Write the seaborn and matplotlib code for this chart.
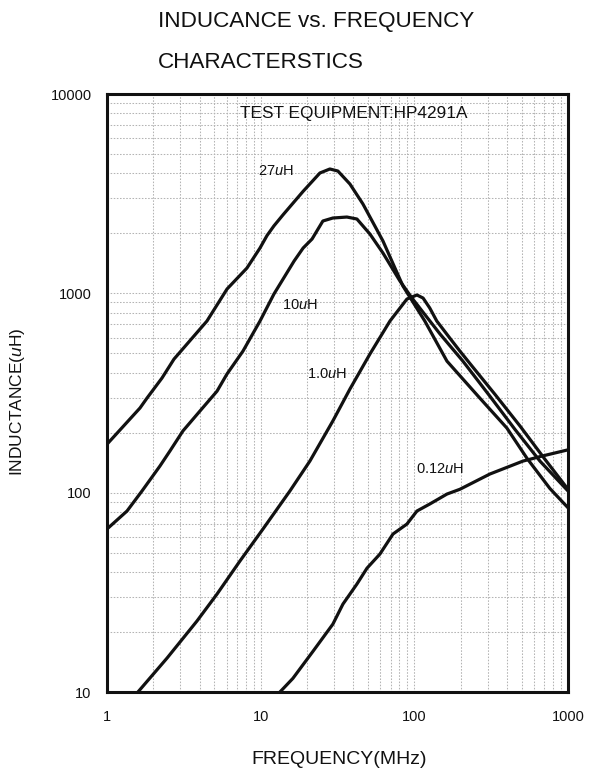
import matplotlib
matplotlib.use("Agg")
import numpy as np
import pandas as pd
import matplotlib.pyplot as plt
import matplotlib.ticker as mticker
import seaborn as sns

# ---- data ----
freq_27 = [1.0, 1.64, 1.82, 2.28, 2.73, 4.47, 6.04, 8.14, 9.9, 11.0, 12.2, 14.0, 18.9, 24.3, 28.2,
           31.8, 38.1, 46.3, 62.5, 84.3, 117, 163, 267, 400, 540, 762, 1000]
ind_27 = [175, 266, 298, 376, 468, 726, 1051, 1339, 1688, 1950, 2180, 2480, 3250, 4015, 4205,
          4108, 3535, 2806, 1830, 1088, 726, 457, 298, 211, 149, 105, 84]

freq_10 = [1.0, 1.35, 1.69, 2.21, 2.57, 3.12, 4.03, 5.20, 6.04, 7.67, 9.9, 12.2, 16.5, 18.9,
           21.6, 25.4, 29.5, 36.4, 42.3, 51.4, 62.5, 80.6, 96.5, 147, 207, 310, 451, 657, 1000]
ind_10 = [65.7, 80.9, 102, 136, 162, 204, 257, 323, 394, 513, 726, 992, 1452, 1688,
          1873, 2306, 2387, 2414, 2360, 1984, 1593, 1153, 947, 625, 457, 305, 208, 144, 102]

freq_1 = [1.59, 2.46, 3.85, 5.20, 7.33, 10.35, 15.5, 20.9, 29.5, 38.1, 51.4, 69.4, 89.5, 104,
          114, 126, 140, 170, 198, 237, 334, 487, 708, 1000]
ind_1 = [10, 14.8, 22.7, 31.0, 45.4, 65.7, 102, 144, 229, 331, 496, 726, 936, 981,
         947, 844, 726, 597, 513, 432, 312, 216, 147, 104]

freq_012 = [13.35, 16.2, 21.9, 29.5, 34.3, 42.3, 49.2, 59.7, 72.6, 89.5, 104, 126, 163, 198,
            310, 509, 687, 1000]
ind_012 = [10, 11.7, 16.0, 21.9, 27.6, 34.8, 41.8, 49.2, 62.0, 69.6, 80.9, 87.7, 98.4, 104,
           124, 144, 153, 164]

series_names = ["27μH", "10μH", "1.0μH", "0.12μH"]
label_x = [12.6, 18.0, 27.0, 147]
label_y = [4108, 874, 394, 131]

x_ticks = [1, 10, 100, 1000]
y_ticks = [10, 100, 1000, 10000]

title_lines = ["INDUCANCE vs. FREQUENCY", "CHARACTERSTICS"]
x_title = "FREQUENCY(MHz)"
y_title = "INDUCTANCE(μH)"
note = "TEST EQUIPMENT:HP4291A"

# ---- build table ----
frames = []
for name, f, l in zip(series_names, [freq_27, freq_10, freq_1, freq_012],
                      [ind_27, ind_10, ind_1, ind_012]):
    frames.append(pd.DataFrame({"freq": f, "ind": l, "part": name,
                                "order": np.arange(len(f))}))
df = pd.concat(frames, ignore_index=True)

sns.set_theme(style="white")
plt.rcParams["font.family"] = ["Liberation Sans", "DejaVu Sans"]
plt.rcParams["mathtext.fontset"] = "custom"
plt.rcParams["mathtext.it"] = "Liberation Sans:italic"

TXT = "#111111"

fig = plt.figure(figsize=(5.94, 7.74), dpi=100)
ax = fig.add_axes([107 / 594, 1 - 692 / 774, 461 / 594, 598 / 774])

sns.lineplot(data=df, x="freq", y="ind", hue="part", units="part", estimator=None,
             sort=False, palette=["#111111"] * 4, linewidth=2.3, legend=False, ax=ax)
for ln in ax.get_lines():
    ln.set_solid_joinstyle("round")
    ln.set_solid_capstyle("round")

ax.set_xscale("log")
ax.set_yscale("log")
ax.set_xlim(1, 1000)
ax.set_ylim(10, 10000)

ax.xaxis.set_major_locator(mticker.FixedLocator(x_ticks))
ax.yaxis.set_major_locator(mticker.FixedLocator(y_ticks))
ax.xaxis.set_major_formatter(mticker.FixedFormatter([str(v) for v in x_ticks]))
ax.yaxis.set_major_formatter(mticker.FixedFormatter([str(v) for v in y_ticks]))
ax.xaxis.set_minor_locator(mticker.LogLocator(base=10, subs=np.arange(2, 10)))
ax.yaxis.set_minor_locator(mticker.LogLocator(base=10, subs=np.arange(2, 10)))
ax.xaxis.set_minor_formatter(mticker.NullFormatter())
ax.yaxis.set_minor_formatter(mticker.NullFormatter())

ax.grid(which="both", color="#b4b4b4", linestyle=(0, (1.5, 1.5)), linewidth=0.75)
ax.set_axisbelow(True)
ax.tick_params(which="both", length=0)
ax.tick_params(axis="x", pad=13, labelsize=10.5, colors=TXT)
ax.tick_params(axis="y", pad=11, labelsize=10.5, colors=TXT)
ax.set_xlabel("")
ax.set_ylabel("")

for s in ax.spines.values():
    s.set_visible(True)
    s.set_color("#111111")
    s.set_linewidth(2.2)

for name, lx, ly in zip(series_names, label_x, label_y):
    txt = name.replace("μ", r"$\mathit{u}$")
    ax.text(lx, ly, txt, ha="center", va="center", fontsize=10.5, color=TXT)

ax.text(0.536, 0.967, note, transform=ax.transAxes, ha="center", va="center",
        fontsize=12.4, color=TXT)

fig.text(158 / 594, 1 - 21 / 774, title_lines[0], ha="left", va="center",
         fontsize=16.2, color=TXT)
fig.text(158 / 594, 1 - 62 / 774, title_lines[1], ha="left", va="center",
         fontsize=16.2, color=TXT)
fig.text(339 / 594, 1 - 760 / 774, x_title, ha="center", va="center",
         fontsize=14, color=TXT)
fig.text(18 / 594, 1 - 402 / 774, y_title.replace("μ", r"$\mathit{u}$"), ha="center",
         va="center", rotation=90, fontsize=12.5, color=TXT)

fig.savefig("out.png", dpi=100, facecolor="white")
